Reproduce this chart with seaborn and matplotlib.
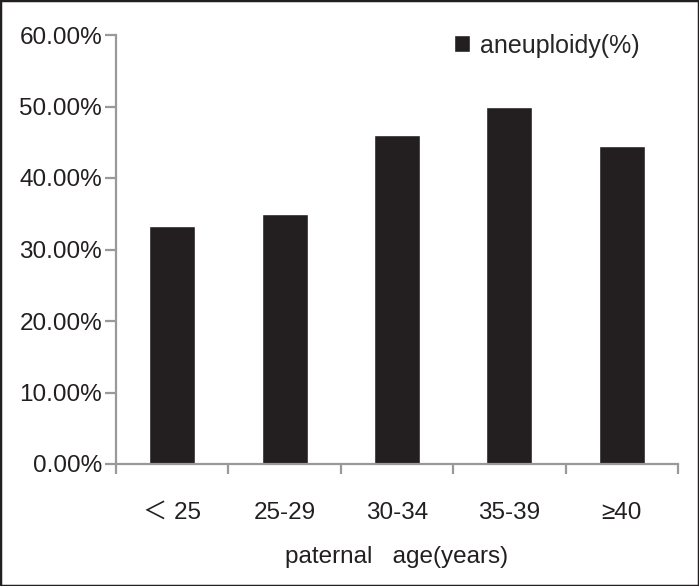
import matplotlib
matplotlib.use("Agg")
import matplotlib.pyplot as plt
import seaborn as sns
import pandas as pd
from matplotlib.patches import Rectangle
from matplotlib.ticker import FuncFormatter, FixedLocator

# Data
age_groups = ["＜ 25", "25-29", "30-34", "35-39", "≥40"]
aneuploidy = [33.33, 35.0, 46.0, 50.0, 44.44]
y_ticks = [0, 10, 20, 30, 40, 50, 60]

df = pd.DataFrame({"age": age_groups, "aneuploidy": aneuploidy})

sns.set_style("white")
plt.rcParams["font.family"] = ["Liberation Sans", "Noto Sans CJK SC", "DejaVu Sans"]

fig = plt.figure(figsize=(6.99, 5.86), dpi=100)
ax = fig.add_axes([116 / 699, 1 - 464 / 586, (678 - 116) / 699, (464 - 35) / 586])

sns.barplot(data=df, x="age", y="aneuploidy", color="#231f20", saturation=1,
            width=0.41, label="aneuploidy(%)", ax=ax)

axis_grey = "#999999"
ax.set_ylim(0, 60)
ax.set_xlim(-0.5, 4.5)
ax.set_yticks(y_ticks)
ax.yaxis.set_major_formatter(FuncFormatter(lambda v, p: f"{v:.2f}%"))
for side in ["top", "right"]:
    ax.spines[side].set_visible(False)
for side in ["left", "bottom"]:
    ax.spines[side].set_color(axis_grey)
    ax.spines[side].set_linewidth(1.6)

ax.tick_params(axis="y", which="major", left=True, length=8, width=1.6, color=axis_grey,
               labelsize=17.5, labelcolor="#231f20", pad=2)
ax.tick_params(axis="x", which="major", bottom=False, labelsize=17.5, labelcolor="#231f20", pad=24)
ax.xaxis.set_minor_locator(FixedLocator([-0.5, 0.5, 1.5, 2.5, 3.5, 4.5]))
ax.tick_params(axis="x", which="minor", bottom=True, length=7, width=1.6, color=axis_grey)

ax.set_xlabel("paternal   age(years)", fontsize=17.5, color="#231f20", labelpad=16)
ax.set_ylabel("")

ax.legend(loc="upper left", bbox_to_anchor=(441 / 699, 1 - 21 / 586),
          bbox_transform=fig.transFigure, frameon=False, fontsize=18,
          handlelength=0.65, handleheight=0.65, handletextpad=0.4, borderpad=0)

# figure border
fig.patches.append(Rectangle((0, 0), 1, 1, transform=fig.transFigure, fill=False,
                             edgecolor="#231f20", linewidth=2.5, zorder=10))

fig.savefig("out.png", dpi=100)
